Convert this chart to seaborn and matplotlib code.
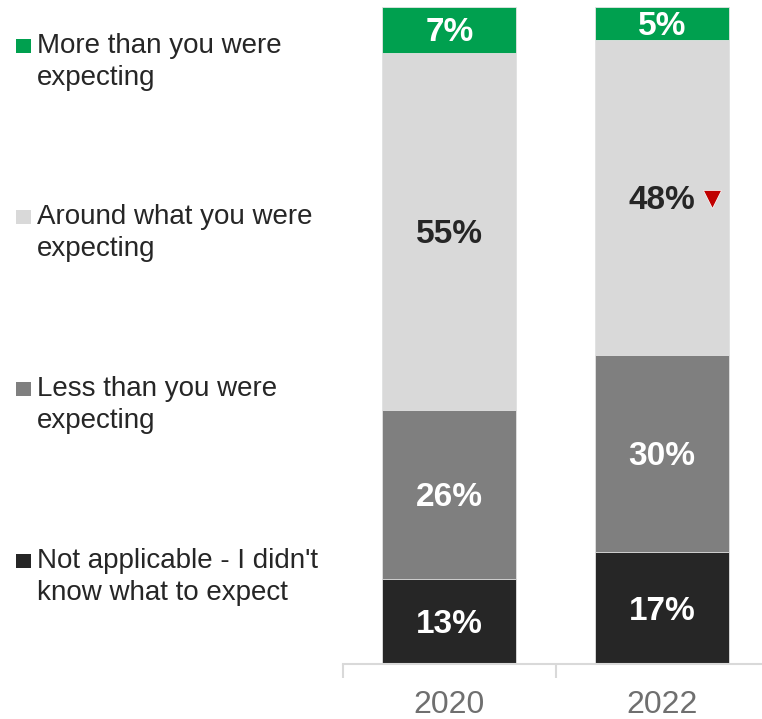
import matplotlib
matplotlib.use("Agg")
import matplotlib.pyplot as plt
import matplotlib.transforms as mtransforms
from matplotlib.patches import Rectangle
import numpy as np
import pandas as pd
import seaborn as sns

# Survey results per year (percent), bottom segment first
years = ["2020", "2022"]
categories = [
    "Not applicable - I didn't\nknow what to expect",
    "Less than you were\nexpecting",
    "Around what you were\nexpecting",
    "More than you were\nexpecting",
]
not_applicable = [13, 17]
less_than = [26, 30]
around = [55, 48]
more_than = [7, 5]
# Significant decrease marker: (category index, year index)
sig_down = [(2, 1)]

colors = ["#262626", "#7f7f7f", "#d9d9d9", "#00a04f"]
label_colors = ["white", "white", "#262626", "white"]

series = [not_applicable, less_than, around, more_than]
values = np.array(series, dtype=float)
shares = values / values.sum(axis=0) * 100  # 100% stacked
cum = np.cumsum(shares, axis=0)

sns.set_theme(style="white")
plt.rcParams["font.family"] = ["Liberation Sans", "DejaVu Sans"]

W, H = 762, 719
fig = plt.figure(figsize=(W / 100, H / 100), dpi=100)
ax = fig.add_axes([343 / W, 55 / H, 425.5 / W, 657 / H])

# Overlay cumulative totals from the top segment down
for i in range(len(categories) - 1, -1, -1):
    df = pd.DataFrame({"year": years, "value": cum[i]})
    sns.barplot(data=df, x="year", y="value", color=colors[i], saturation=1,
                width=0.63, ax=ax, edgecolor="#e4e4e4", linewidth=0.6)

# Segment labels (nudged slightly down so the digits sit visually centred)
label_tr = mtransforms.offset_copy(ax.transData, fig=fig, x=0, y=-3 * 0.72,
                                   units="points")
for i in range(len(categories)):
    for j in range(len(years)):
        mid = cum[i, j] - shares[i, j] / 2
        ax.text(j, mid, f"{series[i][j]}%", ha="center", va="center",
                fontsize=24, fontweight="bold", color=label_colors[i],
                transform=label_tr)

# Significance triangles next to labels
for (i, j) in sig_down:
    mid = cum[i, j] - shares[i, j] / 2
    tr = mtransforms.offset_copy(ax.transData, fig=fig, x=49.5 * 0.72,
                                 y=-1 * 0.72, units="points")
    ax.plot([j], [mid], marker="v", markersize=13.5, color="#c00000",
            markeredgecolor="white", markeredgewidth=0.5, transform=tr,
            clip_on=False)

ax.set_ylim(0, 100)
ax.set_xlim(-0.5, 1.5)
ax.set_xlabel("")
ax.set_ylabel("")
ax.set_yticks([])
for s in ["top", "left", "right"]:
    ax.spines[s].set_visible(False)
ax.spines["bottom"].set_color("#d9d9d9")
ax.spines["bottom"].set_linewidth(1.5)
ax.set_xticks([-0.5, 0.5, 1.5], minor=True)
ax.tick_params(axis="x", which="minor", length=10, width=1.5, color="#d9d9d9",
               direction="out", bottom=True)
ax.tick_params(axis="x", which="major", length=0, pad=19, labelsize=23,
               labelcolor="#6f6f6f")
ax.set_facecolor("white")

# Legend along the left side, top entry first
legend_baseline = [53, 224, 396, 568]
for k, cat_i in enumerate([3, 2, 1, 0]):
    y = legend_baseline[k]
    fig.patches.append(Rectangle((16 / W, 1 - y / H), 15 / W, 14 / H,
                                 transform=fig.transFigure, facecolor=colors[cat_i],
                                 edgecolor="none"))
    for n, line in enumerate(categories[cat_i].split("\n")):
        fig.text(37 / W, 1 - (y + 32 * n) / H, line, ha="left", va="baseline",
                 fontsize=20, color="#262626")

fig.savefig("out.png", dpi=100, facecolor="white")
